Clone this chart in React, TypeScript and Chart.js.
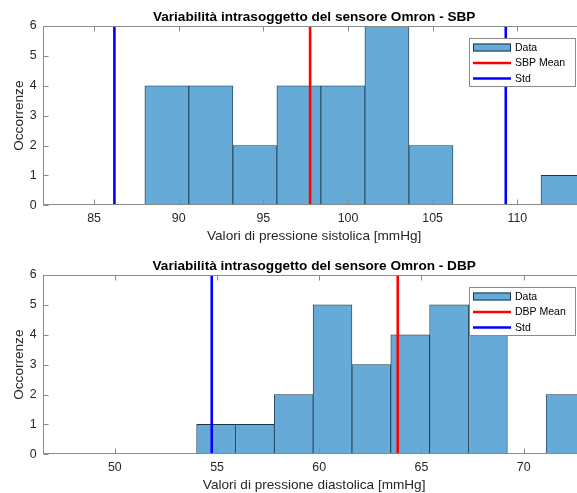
import React, { useEffect, useRef } from "react";
import { Chart, registerables } from "chart.js";

Chart.register(...registerables);

const FONT = '"Liberation Sans", Arial, Helvetica, sans-serif';

// ---- SBP (top) ----
const sbpTitle = "Variabilità intrasoggetto del sensore Omron - SBP";
const sbpXLabel = "Valori di pressione sistolica [mmHg]";
const sbpBinEdges = [88, 90.6, 93.2, 95.8, 98.4, 101, 103.6, 106.2, 108.8, 111.4, 114];
const sbpCounts = [4, 4, 2, 4, 4, 6, 2, 0, 0, 1];
const sbpMean = 97.76;
const sbpStd = [86.2, 109.32];
const sbpXRange = [82, 114];
const sbpXTicks = [85, 90, 95, 100, 105, 110];
const sbpLegend = ["Data", "SBP Mean", "Std"];

// ---- DBP (bottom) ----
const dbpTitle = "Variabilità intrasoggetto del sensore Omron - DBP";
const dbpXLabel = "Valori di pressione diastolica [mmHg]";
const dbpBinEdges = [54, 55.9, 57.8, 59.7, 61.6, 63.5, 65.4, 67.3, 69.2, 71.1, 73];
const dbpCounts = [1, 1, 2, 5, 3, 4, 5, 5, 0, 2];
const dbpMean = 63.84;
const dbpStd = [54.74, 72.94];
const dbpXRange = [46.5, 73];
const dbpXTicks = [50, 55, 60, 65, 70];
const dbpLegend = ["Data", "DBP Mean", "Std"];

const yLabel = "Occorrenze";
const yRange = [0, 6];

const BAR_FILL = "rgb(102,170,215)";
const BAR_EDGE = "#1c3646";
const AXIS_COLOR = "#8a8a8a";
const TEXT_COLOR = "#262626";

const decorPlugin = {
  id: "decor",
  afterDraw(chart: any, _args: any, opts: any) {
    const { ctx, chartArea: a } = chart;
    const xs = chart.scales.x;
    const ys = chart.scales.y;
    ctx.save();
    // box
    ctx.strokeStyle = AXIS_COLOR;
    ctx.lineWidth = 1;
    const L = Math.round(a.left) + 0.5;
    const R = Math.round(a.right) - 0.5;
    const T = Math.round(a.top) + 0.5;
    const B = Math.round(a.bottom) - 0.5;
    ctx.strokeRect(L, T, R - L, B - T);
    // ticks (inward)
    ctx.beginPath();
    xs.ticks.forEach((t: any) => {
      const px = Math.round(xs.getPixelForValue(t.value)) + 0.5;
      ctx.moveTo(px, B);
      ctx.lineTo(px, B - 5);
      ctx.moveTo(px, T);
      ctx.lineTo(px, T + 5);
    });
    ys.ticks.forEach((t: any) => {
      const py = Math.round(ys.getPixelForValue(t.value)) + 0.5;
      ctx.moveTo(L, py);
      ctx.lineTo(L + 5, py);
      ctx.moveTo(R, py);
      ctx.lineTo(R - 5, py);
    });
    ctx.stroke();
    // title
    const cx = (a.left + a.right) / 2;
    ctx.fillStyle = "#000";
    ctx.font = `bold 13.6px ${FONT}`;
    ctx.textAlign = "center";
    ctx.textBaseline = "alphabetic";
    ctx.fillText(opts.title, cx, a.top - 5.5);
    // x label
    ctx.fillStyle = TEXT_COLOR;
    ctx.font = `13.6px ${FONT}`;
    ctx.textBaseline = "middle";
    ctx.fillText(opts.xLabel, cx, a.bottom + 31);
    // y label
    ctx.save();
    ctx.translate(19, (a.top + a.bottom) / 2);
    ctx.rotate(-Math.PI / 2);
    ctx.fillText(opts.yLabel, 0, 0);
    ctx.restore();
    // legend
    const lw = 106;
    const lh = 48;
    const lx = Math.round(a.right - 116);
    const ly = Math.round(a.top + 12);
    ctx.fillStyle = "#fff";
    ctx.fillRect(lx, ly, lw, lh);
    ctx.strokeStyle = AXIS_COLOR;
    ctx.lineWidth = 1;
    ctx.strokeRect(lx + 0.5, ly + 0.5, lw, lh);
    const rows = [9.5, 25, 40.5];
    const items = opts.legend as string[];
    const colors = [null, "#ff0000", "#0000ff"];
    items.forEach((label, i) => {
      const y = ly + rows[i];
      if (i === 0) {
        ctx.fillStyle = BAR_FILL;
        ctx.fillRect(lx + 4, y - 4, 38, 8);
        ctx.strokeStyle = BAR_EDGE;
        ctx.lineWidth = 1;
        ctx.strokeRect(lx + 4.5, y - 3.5, 37, 7);
      } else {
        ctx.strokeStyle = colors[i] as string;
        ctx.lineWidth = 2.5;
        ctx.beginPath();
        ctx.moveTo(lx + 4, y);
        ctx.lineTo(lx + 42, y);
        ctx.stroke();
      }
      ctx.fillStyle = "#000";
      ctx.font = `10.5px ${FONT}`;
      ctx.textAlign = "left";
      ctx.textBaseline = "middle";
      ctx.fillText(label, lx + 46, y + 0.5);
    });
    ctx.restore();
  },
};

function makeConfig(p: {
  edges: number[];
  counts: number[];
  mean: number;
  std: number[];
  xRange: number[];
  xTicks: number[];
  legend: string[];
  title: string;
  xLabel: string;
  padTop: number;
  xAxisHeight: number;
}): any {
  const centers = p.edges.slice(0, -1).map((e, i) => (e + p.edges[i + 1]) / 2);
  const vline = (v: number) => [
    { x: v, y: yRange[0] },
    { x: v, y: yRange[1] },
  ];
  return {
    type: "bar",
    data: {
      datasets: [
        {
          type: "bar",
          label: p.legend[0],
          data: centers.map((c, i) => ({ x: c, y: p.counts[i] })),
          backgroundColor: BAR_FILL,
          borderColor: BAR_EDGE,
          borderWidth: 0.8,
          barPercentage: 1,
          categoryPercentage: 1,
          order: 2,
        },
        {
          type: "line",
          label: p.legend[1],
          data: vline(p.mean),
          borderColor: "#ff0000",
          borderWidth: 2.6,
          pointRadius: 0,
          order: 1,
        },
        ...p.std.map((s) => ({
          type: "line",
          label: p.legend[2],
          data: vline(s),
          borderColor: "#0000ff",
          borderWidth: 2.6,
          pointRadius: 0,
          order: 1,
        })),
      ],
    },
    options: {
      animation: false,
      responsive: false,
      devicePixelRatio: 1,
      layout: { padding: { left: 0, right: 1, top: p.padTop, bottom: 0 } },
      plugins: {
        legend: { display: false },
        tooltip: { enabled: false },
        decor: { title: p.title, xLabel: p.xLabel, yLabel, legend: p.legend },
      },
      scales: {
        x: {
          type: "linear",
          min: p.xRange[0],
          max: p.xRange[1],
          offset: false,
          grid: { display: false, drawTicks: false },
          border: { display: false },
          afterBuildTicks: (s: any) => {
            s.ticks = p.xTicks.map((v) => ({ value: v }));
          },
          afterFit: (s: any) => {
            s.height = p.xAxisHeight;
          },
          ticks: {
            padding: 5.5,
            color: TEXT_COLOR,
            font: { family: FONT, size: 12.4 },
            maxRotation: 0,
            autoSkip: false,
          },
        },
        y: {
          type: "linear",
          min: yRange[0],
          max: yRange[1],
          grid: { display: false, drawTicks: false },
          border: { display: false },
          afterFit: (s: any) => {
            s.width = 43.3;
          },
          ticks: {
            stepSize: 1,
            padding: 6.6,
            color: TEXT_COLOR,
            font: { family: FONT, size: 12.4 },
          },
        },
      },
    },
    plugins: [decorPlugin],
  };
}

export default function App() {
  const topRef = useRef<HTMLCanvasElement>(null);
  const botRef = useRef<HTMLCanvasElement>(null);

  useEffect(() => {
    const c1 = new Chart(
      topRef.current as HTMLCanvasElement,
      makeConfig({
        edges: sbpBinEdges,
        counts: sbpCounts,
        mean: sbpMean,
        std: sbpStd,
        xRange: sbpXRange,
        xTicks: sbpXTicks,
        legend: sbpLegend,
        title: sbpTitle,
        xLabel: sbpXLabel,
        padTop: 26,
        xAxisHeight: 247 - 205.3,
      })
    );
    const c2 = new Chart(
      botRef.current as HTMLCanvasElement,
      makeConfig({
        edges: dbpBinEdges,
        counts: dbpCounts,
        mean: dbpMean,
        std: dbpStd,
        xRange: dbpXRange,
        xTicks: dbpXTicks,
        legend: dbpLegend,
        title: dbpTitle,
        xLabel: dbpXLabel,
        padTop: 28,
        xAxisHeight: 246 - 207.3,
      })
    );
    return () => {
      c1.destroy();
      c2.destroy();
    };
  }, []);

  return (
    <div
      style={{
        position: "fixed",
        left: 0,
        top: 0,
        width: 577,
        height: 493,
        overflow: "hidden",
        background: "#fff",
      }}
    >
      <canvas
        ref={topRef}
        width={586}
        height={247}
        style={{ position: "absolute", left: 0, top: 0, width: 586, height: 247 }}
      />
      <canvas
        ref={botRef}
        width={586}
        height={246}
        style={{ position: "absolute", left: 0, top: 247, width: 586, height: 246 }}
      />
    </div>
  );
}
